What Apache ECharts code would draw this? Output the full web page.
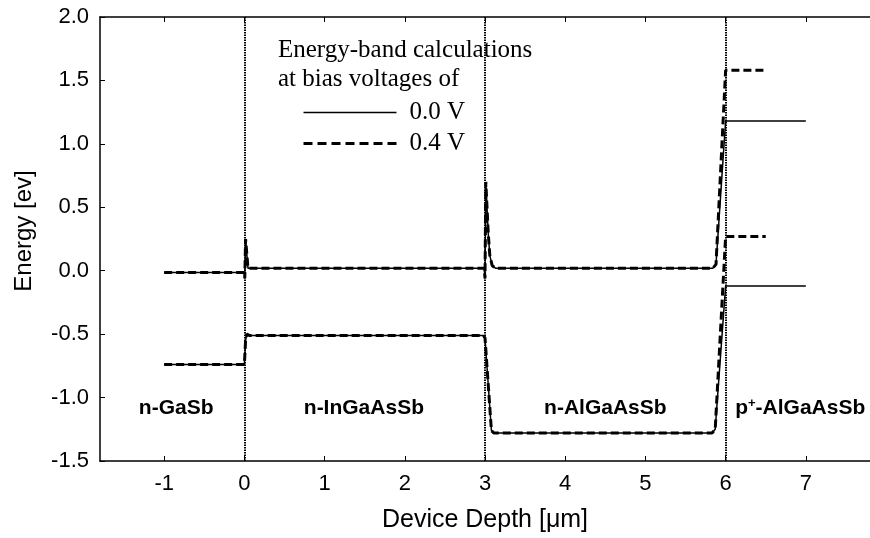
<!DOCTYPE html>
<html>
<head>
<meta charset="utf-8">
<script src="https://cdn.jsdelivr.net/npm/echarts@6/dist/echarts.min.js"></script>
<style>
  html, body { margin: 0; padding: 0; background: #fff; }
  #chart { width: 870px; height: 538px; }
</style>
</head>
<body>
<div id="chart"></div>
<script>
  // band edges, [depth µm, energy eV]
  const cbBias0 = [
    [-1, -0.015], [0, -0.015], [0.005, -0.06], [0.015, 0.25], [0.045, 0.02],
    [2.99, 0.02], [3.0, -0.06], [3.01, 0.70], [3.04, 0.30], [3.06, 0.12],
    [3.09, 0.04], [3.13, 0.02], [5.84, 0.02], [5.88, 0.05], [6.0, 1.18], [7.0, 1.18],
  ];
  const vbBias0 = [
    [-1, -0.74], [0, -0.74], [0.015, -0.55], [0.03, -0.50], [0.06, -0.51],
    [2.98, -0.51], [3.0, -0.53], [3.08, -1.26], [3.11, -1.28], [5.83, -1.28],
    [5.87, -1.25], [6.0, -0.12], [7.0, -0.12],
  ];
  const cbBias4 = [
    [-1, -0.015], [0, -0.015], [0.005, -0.06], [0.015, 0.25], [0.045, 0.02],
    [2.99, 0.02], [3.0, -0.06], [3.01, 0.70], [3.04, 0.30], [3.06, 0.12],
    [3.09, 0.04], [3.13, 0.02], [5.84, 0.02], [5.88, 0.05], [6.0, 1.58], [6.5, 1.58],
  ];
  const vbBias4 = [
    [-1, -0.74], [0, -0.74], [0.015, -0.55], [0.03, -0.50], [0.06, -0.51],
    [2.98, -0.51], [3.0, -0.53], [3.08, -1.26], [3.11, -1.28], [5.83, -1.28],
    [5.87, -1.25], [6.0, 0.27], [6.5, 0.27],
  ];
  const interfaces = [0, 3, 6];
  const xTicks = [-1, 0, 1, 2, 3, 4, 5, 6, 7];
  const regionNames = ['n-GaSb', 'n-InGaAsSb', 'n-AlGaAsSb', 'p+-AlGaAsSb'];
  const regionX = [-0.85, 1.49, 4.5, 6.93];
  const regionY = -1.08;
  const biasNames = ['0.0 V', '0.4 V'];

  const sans = 'Liberation Sans, Arial, sans-serif';
  const serif = 'Liberation Serif, Times New Roman, serif';

  const chart = echarts.init(document.getElementById('chart'));

  const solidStyle = { color: '#000', width: 1.5, type: 'solid' };
  const dashStyle = { color: '#000', width: 3, type: [8, 4] };

  function band(name, data, style) {
    return {
      name: name,
      type: 'line',
      data: data,
      symbol: 'none',
      silent: true,
      itemStyle: { color: '#000' },
      lineStyle: style,
    };
  }

  const option = {
    animation: false,
    title: {
      text: 'Energy-band calculations\nat bias voltages of',
      left: 278,
      top: 36,
      padding: 0,
      textStyle: {
        fontFamily: serif,
        fontSize: 25,
        fontWeight: 'normal',
        color: '#000',
        lineHeight: 29,
      },
    },
    legend: {
      data: [
        { name: biasNames[0], lineStyle: { width: 1.5, type: 'solid' } },
        { name: biasNames[1], lineStyle: { width: 3, type: [9, 5] } },
      ],
      orient: 'vertical',
      left: 302,
      top: 100,
      padding: 0,
      itemWidth: 93,
      itemHeight: 14,
      itemGap: 6,
      itemStyle: { opacity: 0 },
      textStyle: {
        fontFamily: serif,
        fontSize: 25,
        color: '#000',
        padding: [0, 0, 0, 8],
      },
    },
    grid: {
      left: 100,
      top: 17,
      width: 770,
      height: 444,
      containLabel: false,
    },
    xAxis: [
      {
        type: 'value',
        min: -1.8,
        max: 7.8,
        name: 'Device Depth [μm]',
        nameLocation: 'middle',
        nameGap: 47,
        nameTextStyle: { fontFamily: sans, fontSize: 25, color: '#000' },
        axisLine: { show: true, onZero: false, lineStyle: { color: '#000', width: 1.5 } },
        axisTick: { show: true, inside: true, length: 5, customValues: xTicks, lineStyle: { color: '#000' } },
        axisLabel: { customValues: xTicks, margin: 12, fontFamily: sans, fontSize: 22, color: '#000' },
        splitLine: { show: false },
      },
      {
        type: 'value',
        position: 'top',
        min: -1.8,
        max: 7.8,
        axisLine: { show: true, onZero: false, lineStyle: { color: '#000', width: 1.5 } },
        axisTick: { show: true, inside: true, length: 5, customValues: xTicks, lineStyle: { color: '#000' } },
        axisLabel: { show: false },
        splitLine: { show: false },
      },
    ],
    yAxis: {
      type: 'value',
      min: -1.5,
      max: 2.0,
      interval: 0.5,
      name: 'Energy [ev]',
      nameLocation: 'middle',
      nameGap: 64,
      nameTextStyle: { fontFamily: sans, fontSize: 24, color: '#000', padding: [0, 0, 0, 16] },
      axisLine: { show: true, onZero: false, lineStyle: { color: '#000', width: 1.5 } },
      axisTick: { show: true, inside: true, length: 5, lineStyle: { color: '#000' } },
      axisLabel: {
        margin: 11,
        fontFamily: sans,
        fontSize: 22,
        color: '#000',
        formatter: (v) => v.toFixed(1),
      },
      splitLine: { show: false },
    },
    series: [
      {
        type: 'line',
        data: [],
        silent: true,
        markLine: {
          silent: true,
          symbol: 'none',
          label: { show: false },
          lineStyle: { color: '#000', width: 2, type: [1.5, 1] },
          data: interfaces.map((x) => ({ xAxis: x })),
        },
      },
      band(biasNames[0], cbBias0, solidStyle),
      band(biasNames[0], vbBias0, solidStyle),
      band(biasNames[1], cbBias4, dashStyle),
      band(biasNames[1], vbBias4, dashStyle),
      {
        type: 'scatter',
        silent: true,
        symbolSize: 0,
        itemStyle: { opacity: 1 },
        data: regionNames.map((n, i) => ({ name: n, value: [regionX[i], regionY] })),
        label: {
          show: true,
          position: 'inside',
          color: '#000',
          opacity: 1,
          formatter: (p) => (p.name.indexOf('p+') === 0
            ? '{b|p}{sup|+}{b|' + p.name.slice(2) + '}'
            : '{b|' + p.name + '}'),
          rich: {
            b: { fontFamily: sans, fontSize: 21, fontWeight: 'bold', color: '#000' },
            sup: { fontFamily: sans, fontSize: 13, fontWeight: 'bold', color: '#000', verticalAlign: 'top', lineHeight: 13 },
          },
        },
      },
    ],
  };

  chart.setOption(option);
</script>
</body>
</html>
